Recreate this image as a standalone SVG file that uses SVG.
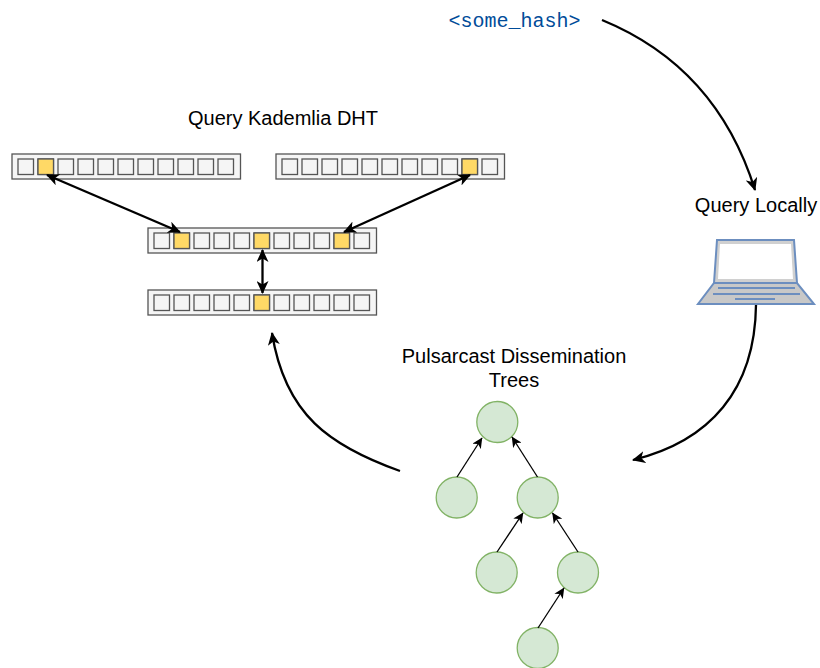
<svg xmlns="http://www.w3.org/2000/svg" xmlns:xlink="http://www.w3.org/1999/xlink" width="820" height="668" viewBox="0 0 820 668">
<style>
.t{font-family:"Liberation Sans",Arial,sans-serif;font-size:20px;fill:#000;text-anchor:middle}
.m{font-family:"Liberation Mono","Courier New",monospace;font-size:20px;fill:#004c99;text-anchor:middle}
.bar{fill:#f5f5f5;stroke:#555;stroke-width:1.3}
.c{fill:#f5f5f5;stroke:#555;stroke-width:1.3}
.y{fill:#ffd966;stroke:#555;stroke-width:1.3}
.n{fill:#d5e8d4;stroke:#82b366;stroke-width:1.3}
.l{fill:none;stroke:#000;stroke-width:2.3}
.a{fill:none;stroke:#000;stroke-width:1.3}
</style>
<defs>
<marker id="h" viewBox="0 0 14 12" refX="12" refY="6" markerWidth="14" markerHeight="12" markerUnits="userSpaceOnUse" orient="auto"><path d="M0 0L13 6L0 12L3.5 6Z" fill="#000"/></marker>
<marker id="hs" viewBox="0 0 14 12" refX="2" refY="6" markerWidth="14" markerHeight="12" markerUnits="userSpaceOnUse" orient="auto"><path d="M14 0L1 6L14 12L10.500 6Z" fill="#000"/></marker>
<marker id="s" viewBox="0 0 11 10" refX="10" refY="5" markerWidth="11" markerHeight="10" markerUnits="userSpaceOnUse" orient="auto"><path d="M0 0L10.500 5L0 10L2.800 5Z" fill="#000"/></marker>
<g id="cells">
<rect class="c" x="6" y="5" width="15.500" height="15.500"/><rect class="c" x="26" y="5" width="15.500" height="15.500"/><rect class="c" x="46" y="5" width="15.500" height="15.500"/><rect class="c" x="66" y="5" width="15.500" height="15.500"/><rect class="c" x="86" y="5" width="15.500" height="15.500"/><rect class="c" x="106" y="5" width="15.500" height="15.500"/><rect class="c" x="126" y="5" width="15.500" height="15.500"/><rect class="c" x="146" y="5" width="15.500" height="15.500"/><rect class="c" x="166" y="5" width="15.500" height="15.500"/><rect class="c" x="186" y="5" width="15.500" height="15.500"/><rect class="c" x="206" y="5" width="15.500" height="15.500"/>
</g>
<rect id="bar" class="bar" width="228.500" height="25"/>
</defs>
<g id="label-hash"><text class="m" x="514.500" y="27">&lt;some_hash&gt;</text></g>
<g id="label-kademlia"><text class="t" x="283" y="125">Query Kademlia DHT</text></g>
<g id="label-local"><text class="t" x="756" y="212">Query Locally</text></g>
<g id="label-pulsarcast"><text class="t" x="514" y="363">Pulsarcast Dissemination</text><text class="t" x="514" y="387">Trees</text></g>
<g id="bucket-a" transform="translate(12 154)"><use href="#bar"/><use href="#cells"/><rect class="y" x="26" y="5" width="15.500" height="15.500"/></g>
<g id="bucket-b" transform="translate(276 154)"><use href="#bar"/><use href="#cells"/><rect class="y" x="186" y="5" width="15.500" height="15.500"/></g>
<g id="bucket-c" transform="translate(148 228)"><use href="#bar"/><use href="#cells"/><rect class="y" x="26" y="5" width="15.500" height="15.500"/><rect class="y" x="106" y="5" width="15.500" height="15.500"/><rect class="y" x="186" y="5" width="15.500" height="15.500"/></g>
<g id="bucket-d" transform="translate(148 290)"><use href="#bar"/><use href="#cells"/><rect class="y" x="106" y="5" width="15.500" height="15.500"/></g>
<g id="laptop">
<path d="M717 240H794L797 283H714Z" fill="#d0d0d0" stroke="#6c8ebf" stroke-width="2"/>
<path d="M720 244H791L793 279H718Z" fill="#fff"/>
<path d="M714 283H797L814 304H698Z" fill="#c8c8c8" stroke="#6c8ebf" stroke-width="2"/>
<path d="M718 288H795M713 294H800M735 299H775" fill="none" stroke="#6c8ebf" stroke-width="2"/>
</g>
<g id="tree-1"><circle class="n" cx="497.300" cy="422" r="20.500"/></g>
<g id="tree-2"><circle class="n" cx="456.700" cy="497.500" r="20.500"/></g>
<g id="tree-3"><circle class="n" cx="537.700" cy="497.500" r="20.500"/></g>
<g id="tree-4"><circle class="n" cx="496.700" cy="572.500" r="20.500"/></g>
<g id="tree-5"><circle class="n" cx="578" cy="572.500" r="20.500"/></g>
<g id="tree-6"><circle class="n" cx="537.700" cy="648" r="20.500"/></g>
<g id="connectors">
<path class="l" d="M602 20C680 52 730 110 755 190" marker-end="url(#h)"/>
<path class="l" d="M756 305C755 390 710 441 633 460" marker-end="url(#h)"/>
<path class="l" d="M400 471C330 446 285 415 272 333" marker-end="url(#h)"/>
<path class="l" d="M47 175L180 232" marker-start="url(#hs)" marker-end="url(#h)"/>
<path class="l" d="M470 175L344 232" marker-start="url(#hs)" marker-end="url(#h)"/>
<path class="l" d="M262.500 250V293" marker-start="url(#hs)" marker-end="url(#h)"/>
<path class="a" d="M457 477L482 438" marker-end="url(#s)"/>
<path class="a" d="M537.500 477L512 437" marker-end="url(#s)"/>
<path class="a" d="M497 552L523 513" marker-end="url(#s)"/>
<path class="a" d="M578 552L552.500 513" marker-end="url(#s)"/>
<path class="a" d="M538 628L564 588" marker-end="url(#s)"/>
</g>
</svg>
